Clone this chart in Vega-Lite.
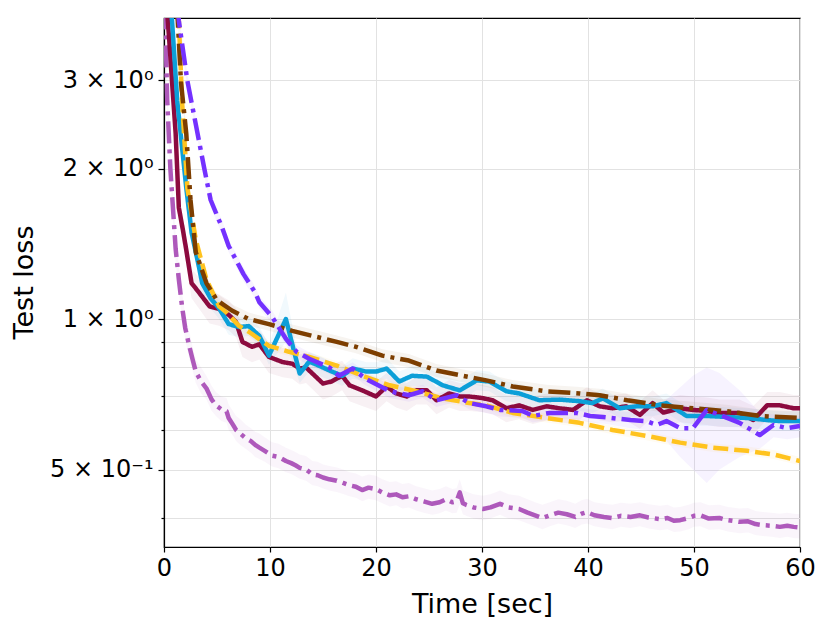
{
  "$schema": "https://vega.github.io/schema/vega-lite/v6.json",
  "description": "Test loss over time for six methods, log scale, with shaded bands.",
  "autosize": "none",
  "width": 636,
  "height": 529,
  "padding": {"left": 164, "top": 18, "right": 30, "bottom": 76},
  "background": "white",
  "config": {
    "font": "DejaVu Sans",
    "view": {"stroke": "black", "strokeWidth": 1.2},
    "axis": {
      "domainColor": "black",
      "domainWidth": 1.2,
      "tickColor": "black",
      "tickWidth": 1.2,
      "labelColor": "black",
      "titleColor": "black",
      "labelFontSize": 24,
      "titleFontSize": 27,
      "titleFontWeight": "normal",
      "gridColor": "#e2e2e2",
      "gridWidth": 1
    }
  },
  "data": {
    "values": [
      {"s": "P", "t": 0.1, "v": 4.2, "lo": 3.9, "hi": 4.6},
      {"s": "P", "t": 0.3, "v": 2.75, "lo": 2.6, "hi": 2.95},
      {"s": "P", "t": 0.6, "v": 2.0, "lo": 1.9, "hi": 2.15},
      {"s": "P", "t": 0.9, "v": 1.6, "lo": 1.5, "hi": 1.72},
      {"s": "P", "t": 1.1, "v": 1.38, "lo": 1.3, "hi": 1.48},
      {"s": "P", "t": 1.4, "v": 1.2, "lo": 1.13, "hi": 1.28},
      {"s": "P", "t": 1.7, "v": 1.06, "lo": 1.0, "hi": 1.13},
      {"s": "P", "t": 2.0, "v": 0.96, "lo": 0.91, "hi": 1.02},
      {"s": "P", "t": 2.4, "v": 0.88, "lo": 0.83, "hi": 0.94},
      {"s": "P", "t": 2.7, "v": 0.83, "lo": 0.79, "hi": 0.88},
      {"s": "P", "t": 3.0, "v": 0.785, "lo": 0.745, "hi": 0.83},
      {"s": "P", "t": 3.5, "v": 0.75, "lo": 0.71, "hi": 0.8},
      {"s": "P", "t": 4.0, "v": 0.727, "lo": 0.69, "hi": 0.77},
      {"s": "P", "t": 4.5, "v": 0.69, "lo": 0.655, "hi": 0.735},
      {"s": "P", "t": 4.9, "v": 0.672, "lo": 0.64, "hi": 0.715},
      {"s": "P", "t": 5.4, "v": 0.66, "lo": 0.625, "hi": 0.7},
      {"s": "P", "t": 5.9, "v": 0.654, "lo": 0.62, "hi": 0.695},
      {"s": "P", "t": 6.1, "v": 0.634, "lo": 0.6, "hi": 0.675},
      {"s": "P", "t": 6.5, "v": 0.615, "lo": 0.585, "hi": 0.655},
      {"s": "P", "t": 6.8, "v": 0.6, "lo": 0.57, "hi": 0.64},
      {"s": "P", "t": 7.2, "v": 0.59, "lo": 0.56, "hi": 0.63},
      {"s": "P", "t": 7.7, "v": 0.578, "lo": 0.55, "hi": 0.615},
      {"s": "P", "t": 8.2, "v": 0.57, "lo": 0.54, "hi": 0.605},
      {"s": "P", "t": 8.6, "v": 0.56, "lo": 0.53, "hi": 0.595},
      {"s": "P", "t": 9.0, "v": 0.553, "lo": 0.525, "hi": 0.59},
      {"s": "P", "t": 9.5, "v": 0.545, "lo": 0.518, "hi": 0.58},
      {"s": "P", "t": 10.2, "v": 0.533, "lo": 0.507, "hi": 0.567},
      {"s": "P", "t": 10.8, "v": 0.53, "lo": 0.503, "hi": 0.563},
      {"s": "P", "t": 11.5, "v": 0.52, "lo": 0.494, "hi": 0.553},
      {"s": "P", "t": 12.0, "v": 0.515, "lo": 0.49, "hi": 0.547},
      {"s": "P", "t": 12.4, "v": 0.51, "lo": 0.485, "hi": 0.542},
      {"s": "P", "t": 12.8, "v": 0.504, "lo": 0.479, "hi": 0.536},
      {"s": "P", "t": 13.4, "v": 0.5, "lo": 0.475, "hi": 0.532},
      {"s": "P", "t": 14.0, "v": 0.489, "lo": 0.465, "hi": 0.52},
      {"s": "P", "t": 14.5, "v": 0.487, "lo": 0.463, "hi": 0.518},
      {"s": "P", "t": 15.0, "v": 0.482, "lo": 0.458, "hi": 0.512},
      {"s": "P", "t": 15.6, "v": 0.478, "lo": 0.454, "hi": 0.508},
      {"s": "P", "t": 16.3, "v": 0.475, "lo": 0.451, "hi": 0.505},
      {"s": "P", "t": 16.9, "v": 0.47, "lo": 0.447, "hi": 0.5},
      {"s": "P", "t": 17.5, "v": 0.465, "lo": 0.442, "hi": 0.494},
      {"s": "P", "t": 18.1, "v": 0.462, "lo": 0.439, "hi": 0.491},
      {"s": "P", "t": 18.7, "v": 0.455, "lo": 0.432, "hi": 0.484},
      {"s": "P", "t": 19.3, "v": 0.46, "lo": 0.437, "hi": 0.489},
      {"s": "P", "t": 20.0, "v": 0.457, "lo": 0.434, "hi": 0.486},
      {"s": "P", "t": 20.6, "v": 0.45, "lo": 0.428, "hi": 0.478},
      {"s": "P", "t": 21.3, "v": 0.444, "lo": 0.422, "hi": 0.472},
      {"s": "P", "t": 21.9, "v": 0.446, "lo": 0.424, "hi": 0.474},
      {"s": "P", "t": 22.5, "v": 0.44, "lo": 0.418, "hi": 0.468},
      {"s": "P", "t": 23.1, "v": 0.442, "lo": 0.42, "hi": 0.47},
      {"s": "P", "t": 23.8, "v": 0.436, "lo": 0.414, "hi": 0.463},
      {"s": "P", "t": 24.5, "v": 0.432, "lo": 0.41, "hi": 0.459},
      {"s": "P", "t": 25.3, "v": 0.427, "lo": 0.406, "hi": 0.454},
      {"s": "P", "t": 26.0, "v": 0.43, "lo": 0.409, "hi": 0.457},
      {"s": "P", "t": 26.6, "v": 0.436, "lo": 0.414, "hi": 0.463},
      {"s": "P", "t": 27.2, "v": 0.43, "lo": 0.409, "hi": 0.457},
      {"s": "P", "t": 27.6, "v": 0.432, "lo": 0.41, "hi": 0.459},
      {"s": "P", "t": 27.9, "v": 0.45, "lo": 0.425, "hi": 0.478},
      {"s": "P", "t": 28.2, "v": 0.428, "lo": 0.407, "hi": 0.455},
      {"s": "P", "t": 28.5, "v": 0.425, "lo": 0.404, "hi": 0.452},
      {"s": "P", "t": 29.2, "v": 0.42, "lo": 0.399, "hi": 0.446},
      {"s": "P", "t": 30.1, "v": 0.417, "lo": 0.396, "hi": 0.443},
      {"s": "P", "t": 30.8, "v": 0.42, "lo": 0.399, "hi": 0.446},
      {"s": "P", "t": 31.7, "v": 0.427, "lo": 0.406, "hi": 0.454},
      {"s": "P", "t": 32.5, "v": 0.42, "lo": 0.399, "hi": 0.446},
      {"s": "P", "t": 33.5, "v": 0.417, "lo": 0.396, "hi": 0.443},
      {"s": "P", "t": 34.3, "v": 0.41, "lo": 0.39, "hi": 0.436},
      {"s": "P", "t": 35.0, "v": 0.405, "lo": 0.385, "hi": 0.43},
      {"s": "P", "t": 35.7, "v": 0.4, "lo": 0.38, "hi": 0.425},
      {"s": "P", "t": 36.4, "v": 0.405, "lo": 0.385, "hi": 0.43},
      {"s": "P", "t": 37.2, "v": 0.41, "lo": 0.39, "hi": 0.436},
      {"s": "P", "t": 38.0, "v": 0.407, "lo": 0.387, "hi": 0.433},
      {"s": "P", "t": 38.8, "v": 0.402, "lo": 0.382, "hi": 0.427},
      {"s": "P", "t": 39.4, "v": 0.408, "lo": 0.388, "hi": 0.434},
      {"s": "P", "t": 39.9, "v": 0.411, "lo": 0.39, "hi": 0.437},
      {"s": "P", "t": 40.6, "v": 0.405, "lo": 0.385, "hi": 0.43},
      {"s": "P", "t": 41.5, "v": 0.402, "lo": 0.382, "hi": 0.427},
      {"s": "P", "t": 42.3, "v": 0.4, "lo": 0.38, "hi": 0.425},
      {"s": "P", "t": 43.1, "v": 0.404, "lo": 0.384, "hi": 0.429},
      {"s": "P", "t": 44.0, "v": 0.402, "lo": 0.382, "hi": 0.427},
      {"s": "P", "t": 44.9, "v": 0.405, "lo": 0.385, "hi": 0.43},
      {"s": "P", "t": 45.7, "v": 0.401, "lo": 0.381, "hi": 0.426},
      {"s": "P", "t": 46.8, "v": 0.398, "lo": 0.378, "hi": 0.423},
      {"s": "P", "t": 47.5, "v": 0.4, "lo": 0.38, "hi": 0.425},
      {"s": "P", "t": 48.1, "v": 0.395, "lo": 0.375, "hi": 0.42},
      {"s": "P", "t": 48.7, "v": 0.396, "lo": 0.376, "hi": 0.421},
      {"s": "P", "t": 49.5, "v": 0.4, "lo": 0.38, "hi": 0.425},
      {"s": "P", "t": 50.0, "v": 0.404, "lo": 0.384, "hi": 0.429},
      {"s": "P", "t": 50.6, "v": 0.405, "lo": 0.385, "hi": 0.43},
      {"s": "P", "t": 51.4, "v": 0.399, "lo": 0.379, "hi": 0.424},
      {"s": "P", "t": 52.4, "v": 0.4, "lo": 0.38, "hi": 0.425},
      {"s": "P", "t": 53.2, "v": 0.396, "lo": 0.376, "hi": 0.421},
      {"s": "P", "t": 54.3, "v": 0.393, "lo": 0.373, "hi": 0.418},
      {"s": "P", "t": 55.1, "v": 0.394, "lo": 0.374, "hi": 0.419},
      {"s": "P", "t": 55.8, "v": 0.389, "lo": 0.37, "hi": 0.413},
      {"s": "P", "t": 56.5, "v": 0.387, "lo": 0.368, "hi": 0.411},
      {"s": "P", "t": 57.3, "v": 0.386, "lo": 0.367, "hi": 0.41},
      {"s": "P", "t": 58.1, "v": 0.384, "lo": 0.365, "hi": 0.408},
      {"s": "P", "t": 58.8, "v": 0.386, "lo": 0.367, "hi": 0.41},
      {"s": "P", "t": 59.4, "v": 0.384, "lo": 0.365, "hi": 0.408},
      {"s": "P", "t": 60.0, "v": 0.383, "lo": 0.364, "hi": 0.407},

      {"s": "R", "t": 0.0, "v": 5.0, "lo": 4.7, "hi": 5.3},
      {"s": "R", "t": 0.5, "v": 3.6, "lo": 3.4, "hi": 3.8},
      {"s": "R", "t": 0.76, "v": 2.98, "lo": 2.8, "hi": 3.15},
      {"s": "R", "t": 1.1, "v": 2.35, "lo": 2.2, "hi": 2.5},
      {"s": "R", "t": 1.4, "v": 1.67, "lo": 1.57, "hi": 1.77},
      {"s": "R", "t": 1.8, "v": 1.5, "lo": 1.41, "hi": 1.59},
      {"s": "R", "t": 2.1, "v": 1.375, "lo": 1.29, "hi": 1.46},
      {"s": "R", "t": 2.6, "v": 1.18, "lo": 1.1, "hi": 1.26},
      {"s": "R", "t": 3.3, "v": 1.13, "lo": 1.05, "hi": 1.21},
      {"s": "R", "t": 4.3, "v": 1.06, "lo": 0.98, "hi": 1.14},
      {"s": "R", "t": 5.2, "v": 1.047, "lo": 0.97, "hi": 1.12},
      {"s": "R", "t": 6.1, "v": 1.02, "lo": 0.95, "hi": 1.09},
      {"s": "R", "t": 6.8, "v": 0.986, "lo": 0.92, "hi": 1.05},
      {"s": "R", "t": 7.4, "v": 0.9, "lo": 0.84, "hi": 0.96},
      {"s": "R", "t": 8.3, "v": 0.88, "lo": 0.82, "hi": 0.94},
      {"s": "R", "t": 9.0, "v": 0.89, "lo": 0.83, "hi": 0.95},
      {"s": "R", "t": 9.9, "v": 0.84, "lo": 0.78, "hi": 0.9},
      {"s": "R", "t": 11.2, "v": 0.82, "lo": 0.765, "hi": 0.875},
      {"s": "R", "t": 12.1, "v": 0.814, "lo": 0.76, "hi": 0.87},
      {"s": "R", "t": 12.8, "v": 0.796, "lo": 0.74, "hi": 0.85},
      {"s": "R", "t": 13.4, "v": 0.8, "lo": 0.745, "hi": 0.855},
      {"s": "R", "t": 15.0, "v": 0.743, "lo": 0.69, "hi": 0.8},
      {"s": "R", "t": 15.8, "v": 0.75, "lo": 0.7, "hi": 0.81},
      {"s": "R", "t": 16.8, "v": 0.77, "lo": 0.72, "hi": 0.825},
      {"s": "R", "t": 17.5, "v": 0.737, "lo": 0.685, "hi": 0.79},
      {"s": "R", "t": 18.7, "v": 0.72, "lo": 0.67, "hi": 0.775},
      {"s": "R", "t": 20.0, "v": 0.7, "lo": 0.655, "hi": 0.75},
      {"s": "R", "t": 21.0, "v": 0.733, "lo": 0.685, "hi": 0.78},
      {"s": "R", "t": 21.9, "v": 0.71, "lo": 0.665, "hi": 0.755},
      {"s": "R", "t": 22.9, "v": 0.7, "lo": 0.655, "hi": 0.745},
      {"s": "R", "t": 23.8, "v": 0.72, "lo": 0.675, "hi": 0.765},
      {"s": "R", "t": 24.8, "v": 0.72, "lo": 0.675, "hi": 0.765},
      {"s": "R", "t": 25.7, "v": 0.688, "lo": 0.645, "hi": 0.73},
      {"s": "R", "t": 26.9, "v": 0.71, "lo": 0.665, "hi": 0.755},
      {"s": "R", "t": 27.9, "v": 0.7, "lo": 0.655, "hi": 0.745},
      {"s": "R", "t": 28.8, "v": 0.7, "lo": 0.655, "hi": 0.745},
      {"s": "R", "t": 30.0, "v": 0.695, "lo": 0.652, "hi": 0.738},
      {"s": "R", "t": 31.0, "v": 0.688, "lo": 0.645, "hi": 0.73},
      {"s": "R", "t": 32.3, "v": 0.663, "lo": 0.622, "hi": 0.705},
      {"s": "R", "t": 33.5, "v": 0.672, "lo": 0.63, "hi": 0.715},
      {"s": "R", "t": 34.8, "v": 0.658, "lo": 0.617, "hi": 0.7},
      {"s": "R", "t": 36.1, "v": 0.669, "lo": 0.627, "hi": 0.71},
      {"s": "R", "t": 37.3, "v": 0.663, "lo": 0.622, "hi": 0.705},
      {"s": "R", "t": 38.6, "v": 0.658, "lo": 0.617, "hi": 0.7},
      {"s": "R", "t": 39.9, "v": 0.688, "lo": 0.645, "hi": 0.73},
      {"s": "R", "t": 41.1, "v": 0.669, "lo": 0.627, "hi": 0.71},
      {"s": "R", "t": 42.3, "v": 0.663, "lo": 0.622, "hi": 0.705},
      {"s": "R", "t": 43.6, "v": 0.669, "lo": 0.627, "hi": 0.71},
      {"s": "R", "t": 44.9, "v": 0.643, "lo": 0.603, "hi": 0.685},
      {"s": "R", "t": 46.1, "v": 0.679, "lo": 0.637, "hi": 0.72},
      {"s": "R", "t": 47.1, "v": 0.65, "lo": 0.61, "hi": 0.69},
      {"s": "R", "t": 48.7, "v": 0.663, "lo": 0.622, "hi": 0.705},
      {"s": "R", "t": 49.9, "v": 0.658, "lo": 0.617, "hi": 0.7},
      {"s": "R", "t": 51.2, "v": 0.655, "lo": 0.614, "hi": 0.697},
      {"s": "R", "t": 52.4, "v": 0.649, "lo": 0.608, "hi": 0.69},
      {"s": "R", "t": 54.3, "v": 0.649, "lo": 0.608, "hi": 0.69},
      {"s": "R", "t": 55.6, "v": 0.628, "lo": 0.589, "hi": 0.67},
      {"s": "R", "t": 56.9, "v": 0.672, "lo": 0.63, "hi": 0.715},
      {"s": "R", "t": 58.1, "v": 0.672, "lo": 0.63, "hi": 0.715},
      {"s": "R", "t": 59.4, "v": 0.663, "lo": 0.622, "hi": 0.705},
      {"s": "R", "t": 60.0, "v": 0.663, "lo": 0.622, "hi": 0.705},

      {"s": "C", "t": 0.0, "v": 5.5, "lo": 5.3, "hi": 5.7},
      {"s": "C", "t": 0.76, "v": 3.95, "lo": 3.8, "hi": 4.1},
      {"s": "C", "t": 1.25, "v": 2.73, "lo": 2.63, "hi": 2.83},
      {"s": "C", "t": 2.1, "v": 1.83, "lo": 1.76, "hi": 1.9},
      {"s": "C", "t": 2.6, "v": 1.49, "lo": 1.43, "hi": 1.55},
      {"s": "C", "t": 3.3, "v": 1.27, "lo": 1.22, "hi": 1.32},
      {"s": "C", "t": 3.6, "v": 1.18, "lo": 1.13, "hi": 1.23},
      {"s": "C", "t": 4.4, "v": 1.1, "lo": 1.05, "hi": 1.15},
      {"s": "C", "t": 5.2, "v": 1.05, "lo": 1.0, "hi": 1.1},
      {"s": "C", "t": 6.1, "v": 0.977, "lo": 0.93, "hi": 1.03},
      {"s": "C", "t": 7.1, "v": 0.964, "lo": 0.92, "hi": 1.01},
      {"s": "C", "t": 8.0, "v": 0.968, "lo": 0.925, "hi": 1.01},
      {"s": "C", "t": 9.0, "v": 0.925, "lo": 0.885, "hi": 0.965},
      {"s": "C", "t": 9.9, "v": 0.845, "lo": 0.81, "hi": 0.885},
      {"s": "C", "t": 11.5, "v": 1.0, "lo": 0.9, "hi": 1.13},
      {"s": "C", "t": 12.8, "v": 0.778, "lo": 0.745, "hi": 0.815},
      {"s": "C", "t": 13.7, "v": 0.822, "lo": 0.785, "hi": 0.86},
      {"s": "C", "t": 14.6, "v": 0.807, "lo": 0.77, "hi": 0.845},
      {"s": "C", "t": 15.6, "v": 0.789, "lo": 0.755, "hi": 0.825},
      {"s": "C", "t": 16.8, "v": 0.77, "lo": 0.735, "hi": 0.805},
      {"s": "C", "t": 17.8, "v": 0.796, "lo": 0.76, "hi": 0.835},
      {"s": "C", "t": 19.1, "v": 0.785, "lo": 0.75, "hi": 0.82},
      {"s": "C", "t": 20.0, "v": 0.785, "lo": 0.75, "hi": 0.82},
      {"s": "C", "t": 21.0, "v": 0.796, "lo": 0.76, "hi": 0.835},
      {"s": "C", "t": 22.2, "v": 0.75, "lo": 0.717, "hi": 0.785},
      {"s": "C", "t": 23.4, "v": 0.77, "lo": 0.735, "hi": 0.805},
      {"s": "C", "t": 24.8, "v": 0.767, "lo": 0.733, "hi": 0.8},
      {"s": "C", "t": 26.3, "v": 0.737, "lo": 0.705, "hi": 0.77},
      {"s": "C", "t": 27.9, "v": 0.72, "lo": 0.688, "hi": 0.753},
      {"s": "C", "t": 29.5, "v": 0.754, "lo": 0.72, "hi": 0.79},
      {"s": "C", "t": 30.7, "v": 0.75, "lo": 0.717, "hi": 0.785},
      {"s": "C", "t": 31.5, "v": 0.733, "lo": 0.7, "hi": 0.766},
      {"s": "C", "t": 32.3, "v": 0.717, "lo": 0.685, "hi": 0.75},
      {"s": "C", "t": 33.5, "v": 0.71, "lo": 0.678, "hi": 0.742},
      {"s": "C", "t": 35.4, "v": 0.688, "lo": 0.657, "hi": 0.72},
      {"s": "C", "t": 37.3, "v": 0.69, "lo": 0.659, "hi": 0.722},
      {"s": "C", "t": 39.2, "v": 0.685, "lo": 0.655, "hi": 0.716},
      {"s": "C", "t": 40.4, "v": 0.679, "lo": 0.649, "hi": 0.71},
      {"s": "C", "t": 41.4, "v": 0.694, "lo": 0.663, "hi": 0.726},
      {"s": "C", "t": 43.0, "v": 0.663, "lo": 0.634, "hi": 0.693},
      {"s": "C", "t": 44.6, "v": 0.669, "lo": 0.639, "hi": 0.7},
      {"s": "C", "t": 46.1, "v": 0.669, "lo": 0.639, "hi": 0.7},
      {"s": "C", "t": 47.4, "v": 0.679, "lo": 0.649, "hi": 0.71},
      {"s": "C", "t": 49.3, "v": 0.64, "lo": 0.612, "hi": 0.67},
      {"s": "C", "t": 51.2, "v": 0.64, "lo": 0.612, "hi": 0.67},
      {"s": "C", "t": 53.1, "v": 0.637, "lo": 0.609, "hi": 0.666},
      {"s": "C", "t": 55.0, "v": 0.634, "lo": 0.606, "hi": 0.663},
      {"s": "C", "t": 56.9, "v": 0.628, "lo": 0.6, "hi": 0.657},
      {"s": "C", "t": 58.1, "v": 0.625, "lo": 0.597, "hi": 0.654},
      {"s": "C", "t": 60.0, "v": 0.625, "lo": 0.597, "hi": 0.654},

      {"s": "Y", "t": 0.5, "v": 6.0, "lo": 5.9, "hi": 6.1},
      {"s": "Y", "t": 1.4, "v": 3.95, "lo": 3.87, "hi": 4.03},
      {"s": "Y", "t": 1.7, "v": 2.73, "lo": 2.68, "hi": 2.78},
      {"s": "Y", "t": 2.2, "v": 1.83, "lo": 1.79, "hi": 1.87},
      {"s": "Y", "t": 3.0, "v": 1.44, "lo": 1.41, "hi": 1.47},
      {"s": "Y", "t": 4.0, "v": 1.2, "lo": 1.18, "hi": 1.22},
      {"s": "Y", "t": 5.2, "v": 1.06, "lo": 1.04, "hi": 1.08},
      {"s": "Y", "t": 5.9, "v": 1.03, "lo": 1.01, "hi": 1.05},
      {"s": "Y", "t": 7.1, "v": 0.968, "lo": 0.95, "hi": 0.985},
      {"s": "Y", "t": 8.0, "v": 0.943, "lo": 0.925, "hi": 0.96},
      {"s": "Y", "t": 9.9, "v": 0.884, "lo": 0.866, "hi": 0.9},
      {"s": "Y", "t": 11.8, "v": 0.86, "lo": 0.843, "hi": 0.877},
      {"s": "Y", "t": 13.7, "v": 0.84, "lo": 0.823, "hi": 0.857},
      {"s": "Y", "t": 16.3, "v": 0.807, "lo": 0.79, "hi": 0.823},
      {"s": "Y", "t": 18.7, "v": 0.77, "lo": 0.755, "hi": 0.785},
      {"s": "Y", "t": 21.3, "v": 0.737, "lo": 0.722, "hi": 0.752},
      {"s": "Y", "t": 23.8, "v": 0.717, "lo": 0.703, "hi": 0.731},
      {"s": "Y", "t": 26.3, "v": 0.694, "lo": 0.68, "hi": 0.708},
      {"s": "Y", "t": 28.8, "v": 0.679, "lo": 0.665, "hi": 0.693},
      {"s": "Y", "t": 30.4, "v": 0.672, "lo": 0.659, "hi": 0.685},
      {"s": "Y", "t": 32.9, "v": 0.649, "lo": 0.636, "hi": 0.662},
      {"s": "Y", "t": 36.1, "v": 0.634, "lo": 0.621, "hi": 0.647},
      {"s": "Y", "t": 39.2, "v": 0.62, "lo": 0.608, "hi": 0.632},
      {"s": "Y", "t": 42.3, "v": 0.6, "lo": 0.588, "hi": 0.612},
      {"s": "Y", "t": 45.5, "v": 0.584, "lo": 0.572, "hi": 0.596},
      {"s": "Y", "t": 48.7, "v": 0.566, "lo": 0.555, "hi": 0.577},
      {"s": "Y", "t": 51.8, "v": 0.553, "lo": 0.542, "hi": 0.564},
      {"s": "Y", "t": 55.0, "v": 0.545, "lo": 0.534, "hi": 0.556},
      {"s": "Y", "t": 57.5, "v": 0.536, "lo": 0.525, "hi": 0.547},
      {"s": "Y", "t": 60.0, "v": 0.52, "lo": 0.51, "hi": 0.53},

      {"s": "B", "t": 0.5, "v": 6.0, "lo": 5.8, "hi": 6.2},
      {"s": "B", "t": 1.3, "v": 3.95, "lo": 3.83, "hi": 4.07},
      {"s": "B", "t": 1.6, "v": 2.98, "lo": 2.89, "hi": 3.07},
      {"s": "B", "t": 2.1, "v": 2.35, "lo": 2.28, "hi": 2.42},
      {"s": "B", "t": 2.5, "v": 1.73, "lo": 1.68, "hi": 1.78},
      {"s": "B", "t": 3.0, "v": 1.36, "lo": 1.32, "hi": 1.4},
      {"s": "B", "t": 4.0, "v": 1.18, "lo": 1.145, "hi": 1.215},
      {"s": "B", "t": 5.0, "v": 1.09, "lo": 1.057, "hi": 1.123},
      {"s": "B", "t": 6.4, "v": 1.04, "lo": 1.01, "hi": 1.07},
      {"s": "B", "t": 8.0, "v": 1.0, "lo": 0.97, "hi": 1.03},
      {"s": "B", "t": 9.9, "v": 0.977, "lo": 0.948, "hi": 1.006},
      {"s": "B", "t": 12.1, "v": 0.947, "lo": 0.919, "hi": 0.975},
      {"s": "B", "t": 14.4, "v": 0.921, "lo": 0.893, "hi": 0.949},
      {"s": "B", "t": 16.3, "v": 0.9, "lo": 0.873, "hi": 0.927},
      {"s": "B", "t": 18.1, "v": 0.88, "lo": 0.854, "hi": 0.906},
      {"s": "B", "t": 20.6, "v": 0.845, "lo": 0.82, "hi": 0.87},
      {"s": "B", "t": 23.1, "v": 0.826, "lo": 0.801, "hi": 0.851},
      {"s": "B", "t": 25.7, "v": 0.789, "lo": 0.765, "hi": 0.813},
      {"s": "B", "t": 28.2, "v": 0.77, "lo": 0.747, "hi": 0.793},
      {"s": "B", "t": 30.4, "v": 0.754, "lo": 0.731, "hi": 0.777},
      {"s": "B", "t": 32.9, "v": 0.733, "lo": 0.711, "hi": 0.755},
      {"s": "B", "t": 36.1, "v": 0.717, "lo": 0.695, "hi": 0.739},
      {"s": "B", "t": 39.2, "v": 0.71, "lo": 0.689, "hi": 0.731},
      {"s": "B", "t": 41.1, "v": 0.704, "lo": 0.683, "hi": 0.725},
      {"s": "B", "t": 43.7, "v": 0.688, "lo": 0.667, "hi": 0.709},
      {"s": "B", "t": 46.8, "v": 0.672, "lo": 0.652, "hi": 0.692},
      {"s": "B", "t": 49.9, "v": 0.663, "lo": 0.643, "hi": 0.683},
      {"s": "B", "t": 53.1, "v": 0.654, "lo": 0.634, "hi": 0.674},
      {"s": "B", "t": 56.2, "v": 0.64, "lo": 0.621, "hi": 0.659},
      {"s": "B", "t": 58.1, "v": 0.637, "lo": 0.618, "hi": 0.656},
      {"s": "B", "t": 60.0, "v": 0.634, "lo": 0.615, "hi": 0.653},

      {"s": "V", "t": 0.8, "v": 6.0, "lo": 5.8, "hi": 6.2},
      {"s": "V", "t": 1.4, "v": 3.95, "lo": 3.83, "hi": 4.07},
      {"s": "V", "t": 2.2, "v": 3.0, "lo": 2.91, "hi": 3.09},
      {"s": "V", "t": 3.0, "v": 2.45, "lo": 2.38, "hi": 2.52},
      {"s": "V", "t": 3.8, "v": 2.0, "lo": 1.94, "hi": 2.06},
      {"s": "V", "t": 4.4, "v": 1.73, "lo": 1.68, "hi": 1.78},
      {"s": "V", "t": 5.5, "v": 1.52, "lo": 1.47, "hi": 1.57},
      {"s": "V", "t": 6.1, "v": 1.4, "lo": 1.36, "hi": 1.44},
      {"s": "V", "t": 7.5, "v": 1.23, "lo": 1.19, "hi": 1.27},
      {"s": "V", "t": 8.6, "v": 1.13, "lo": 1.1, "hi": 1.16},
      {"s": "V", "t": 9.0, "v": 1.08, "lo": 1.05, "hi": 1.11},
      {"s": "V", "t": 10.2, "v": 1.01, "lo": 0.98, "hi": 1.04},
      {"s": "V", "t": 11.5, "v": 0.913, "lo": 0.886, "hi": 0.94},
      {"s": "V", "t": 12.5, "v": 0.86, "lo": 0.834, "hi": 0.886},
      {"s": "V", "t": 13.7, "v": 0.833, "lo": 0.808, "hi": 0.858},
      {"s": "V", "t": 15.6, "v": 0.8, "lo": 0.776, "hi": 0.824},
      {"s": "V", "t": 16.5, "v": 0.77, "lo": 0.747, "hi": 0.793},
      {"s": "V", "t": 17.8, "v": 0.796, "lo": 0.772, "hi": 0.82},
      {"s": "V", "t": 19.0, "v": 0.76, "lo": 0.737, "hi": 0.783},
      {"s": "V", "t": 21.3, "v": 0.717, "lo": 0.695, "hi": 0.739},
      {"s": "V", "t": 23.1, "v": 0.704, "lo": 0.683, "hi": 0.725},
      {"s": "V", "t": 24.4, "v": 0.717, "lo": 0.695, "hi": 0.739},
      {"s": "V", "t": 25.7, "v": 0.688, "lo": 0.667, "hi": 0.709},
      {"s": "V", "t": 27.6, "v": 0.704, "lo": 0.683, "hi": 0.725},
      {"s": "V", "t": 28.8, "v": 0.679, "lo": 0.659, "hi": 0.7},
      {"s": "V", "t": 30.4, "v": 0.669, "lo": 0.649, "hi": 0.689},
      {"s": "V", "t": 31.7, "v": 0.658, "lo": 0.638, "hi": 0.678},
      {"s": "V", "t": 33.8, "v": 0.655, "lo": 0.635, "hi": 0.675},
      {"s": "V", "t": 34.8, "v": 0.64, "lo": 0.621, "hi": 0.659},
      {"s": "V", "t": 36.4, "v": 0.649, "lo": 0.63, "hi": 0.668},
      {"s": "V", "t": 37.6, "v": 0.649, "lo": 0.63, "hi": 0.668},
      {"s": "V", "t": 38.9, "v": 0.649, "lo": 0.63, "hi": 0.668},
      {"s": "V", "t": 40.2, "v": 0.64, "lo": 0.621, "hi": 0.659},
      {"s": "V", "t": 41.4, "v": 0.637, "lo": 0.618, "hi": 0.656},
      {"s": "V", "t": 44.0, "v": 0.628, "lo": 0.605, "hi": 0.652},
      {"s": "V", "t": 45.5, "v": 0.625, "lo": 0.6, "hi": 0.655},
      {"s": "V", "t": 46.5, "v": 0.614, "lo": 0.58, "hi": 0.66},
      {"s": "V", "t": 47.4, "v": 0.625, "lo": 0.57, "hi": 0.69},
      {"s": "V", "t": 48.7, "v": 0.605, "lo": 0.53, "hi": 0.73},
      {"s": "V", "t": 49.9, "v": 0.605, "lo": 0.5, "hi": 0.77},
      {"s": "V", "t": 51.2, "v": 0.658, "lo": 0.47, "hi": 0.8},
      {"s": "V", "t": 52.4, "v": 0.643, "lo": 0.5, "hi": 0.78},
      {"s": "V", "t": 54.3, "v": 0.62, "lo": 0.53, "hi": 0.72},
      {"s": "V", "t": 56.2, "v": 0.586, "lo": 0.55, "hi": 0.65},
      {"s": "V", "t": 57.5, "v": 0.614, "lo": 0.58, "hi": 0.645},
      {"s": "V", "t": 58.8, "v": 0.605, "lo": 0.575, "hi": 0.635},
      {"s": "V", "t": 60.0, "v": 0.611, "lo": 0.58, "hi": 0.64}
    ]
  },
  "encoding": {
    "x": {
      "field": "t",
      "type": "quantitative",
      "scale": {"domain": [0, 60], "nice": false, "zero": false},
      "axis": {
        "title": "Time [sec]",
        "values": [0, 10, 20, 30, 40, 50, 60],
        "tickSize": 5,
        "labelPadding": 4,
        "labelFlush": false,
        "titleX": 318,
        "titleY": 57,
        "titleAnchor": null,
        "titleAlign": "center",
        "titleBaseline": "middle"
      }
    },
    "color": {
      "field": "s",
      "type": "nominal",
      "scale": {
        "domain": ["P", "R", "C", "Y", "B", "V"],
        "range": ["#ae59bb", "#8c0b3f", "#0c9fd8", "#ffc31f", "#7d3e00", "#7431ff"]
      },
      "legend": null
    }
  },
  "layer": [
    {
      "mark": {"type": "area", "opacity": 0.06, "clip": true},
      "encoding": {
        "y": {
          "field": "lo",
          "type": "quantitative",
          "scale": {"type": "log", "domain": [0.35, 4.0], "nice": false, "zero": false},
          "axis": {
            "title": "Test loss",
            "values": [0.4, 0.5, 0.6, 0.7, 0.8, 0.9, 1, 2, 3],
            "labelExpr": "datum.value == 3 ? '3 × 10⁰' : datum.value == 2 ? '2 × 10⁰' : datum.value == 1 ? '1 × 10⁰' : datum.value == 0.5 ? '5 × 10⁻¹' : ''",
            "tickSize": {"condition": {"test": "datum.value == 3 || datum.value == 2 || datum.value == 1 || datum.value == 0.5", "value": 6}, "value": 3},
            "labelPadding": 5,
            "labelFlush": false,
            "labelOverlap": false,
            "titleX": -140,
            "titleY": 264,
            "titleAnchor": null,
            "titleAngle": -90,
            "titleAlign": "center",
            "titleBaseline": "middle"
          }
        },
        "y2": {"field": "hi"}
      }
    },
    {
      "mark": {"type": "line", "strokeWidth": 4.5, "strokeCap": "butt", "strokeJoin": "round", "clip": true},
      "encoding": {
        "y": {"field": "v", "type": "quantitative"},
        "strokeDash": {
          "field": "s",
          "type": "nominal",
          "scale": {
            "domain": ["P", "R", "C", "Y", "B", "V"],
            "range": [[22, 6, 4, 6], [1, 0], [1, 0], [15, 6], [22, 6, 4, 6], [22, 6, 4, 6]]
          },
          "legend": null
        }
      }
    }
  ]
}
